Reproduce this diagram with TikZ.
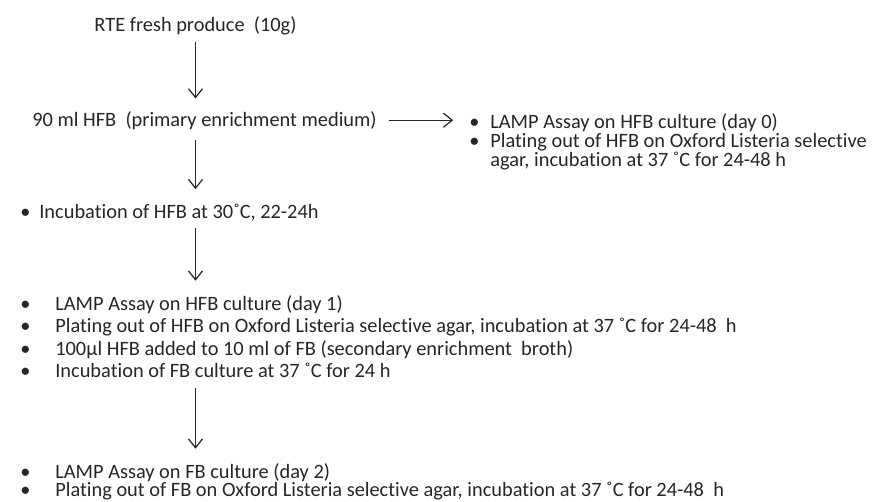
\documentclass[tikz,border=0pt]{standalone}
\usepackage{fontspec}
\setmainfont{Carlito}[Ligatures=NoCommon]
\usetikzlibrary{arrows.meta}

\definecolor{ink}{gray}{0.15}
\tikzset{
    txt/.style={inner sep=0pt, anchor=base west, text=ink, font=\fontsize{11.6}{13}\selectfont},
    arr/.style={draw=ink, line width=0.7pt, -{Straight Barb[length=5pt,width=8pt]}},
}
\newcommand{\bul}[1]{\makebox[#1][l]{•}}

\begin{document}
\begin{tikzpicture}[x=0.02cm, y=-0.02cm]
    \useasboundingbox (0,0) rectangle (875,501);
    % Sample and primary enrichment
    \node[txt, anchor=base] (prod) at (195.5,31.5) {RTE fresh produce\ \ (10g)};
    \node[txt] (hfb) at (32,126) {90 ml HFB\ \ (primary\ enrichment medium)};
    % Day 0 tests
    \node[txt] (day0a) at (469,128) {\bul{0.42cm}LAMP Assay on HFB culture (day 0)};
    \node[txt] (day0b) at (469,147) {\bul{0.42cm}Plating out of HFB on Oxford Listeria selective};
    \node[txt] (day0c) at (490,166) {agar, incubation at 37 ˚C for 24-48 h};
    % First incubation
    \node[txt] (incub) at (20,218) {\bul{0.38cm}Incubation of HFB at 30˚C, 22-24h};
    % Day 1 tests
    \node[txt] (day1a) at (20,310) {\bul{0.7cm}LAMP Assay on HFB culture (day 1)};
    \node[txt] (day1b) at (20,332.5) {\bul{0.7cm}Plating out of HFB on Oxford Listeria selective agar, incubation at 37 ˚C for 24-48\ \ h};
    \node[txt] (day1c) at (20,355) {\bul{0.7cm}100µl HFB added to 10 ml of FB (secondary enrichment\ \ broth)};
    \node[txt] (day1d) at (20,377) {\bul{0.7cm}Incubation of FB culture at 37 ˚C for 24 h};
    % Day 2 tests
    \node[txt] (day2a) at (20,478) {\bul{0.7cm}LAMP Assay on FB culture (day 2)};
    \node[txt] (day2b) at (20,496) {\bul{0.7cm}Plating out of FB on Oxford Listeria selective agar, incubation at 37 ˚C for 24-48\ \ h};
    % Arrows
    \draw[arr, shorten <=4pt, shorten >=7pt] (prod.south) -- (prod.south |- hfb.north);
    \draw[arr, shorten <=6pt, shorten >=8pt] (hfb.south -| prod.south) -- (prod.south |- incub.north);
    \draw[arr, shorten <=4pt, shorten >=8pt] (incub.south -| prod.south) -- (prod.south |- day1a.north);
    \draw[arr, shorten <=6pt, shorten >=8pt] (day1d.south -| prod.south) -- (prod.south |- day2a.north);
    \draw[arr, shorten <=7pt, shorten >=9pt] (hfb.east) -- (hfb.east -| day0a.west);
\end{tikzpicture}
\end{document}
